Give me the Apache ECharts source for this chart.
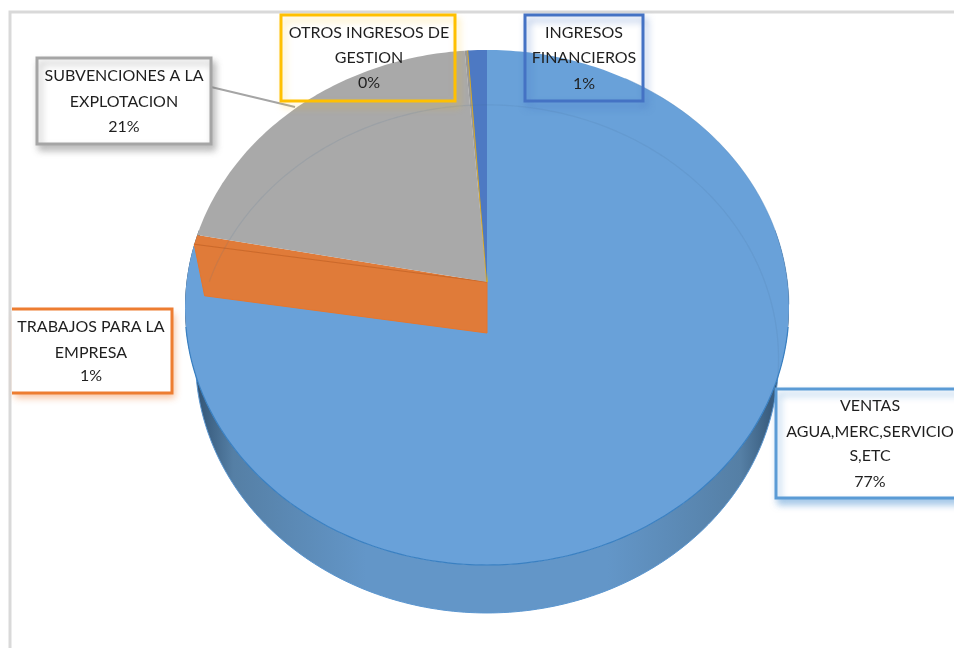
<!DOCTYPE html>
<html><head><meta charset="utf-8">
<style>html,body{margin:0;padding:0;background:#fff;overflow:hidden}#c{width:954px;height:648px}</style>
<script src="https://cdn.jsdelivr.net/npm/echarts@6/dist/echarts.min.js"></script>
</head><body><div id="c"></div>
<script>
// Data
const categories = ['VENTAS AGUA,MERC,SERVICIOS,ETC','TRABAJOS PARA LA EMPRESA','SUBVENCIONES A LA EXPLOTACION','OTROS INGRESOS DE GESTION','INGRESOS FINANCIEROS'];
const values = [77.4, 0.6, 20.7, 0.2, 1.1];
const sliceColors = ['#69a1d9','#e07b39','#a9a9a9','#989898','#4d79c3'];
const wallColors = ['#6599cc','#e07b39','#a0a0a0','#9c9c9c','#4d79c3'];
const labelLines = [['VENTAS','AGUA,MERC,SERVICIO','S,ETC'],['TRABAJOS PARA LA','EMPRESA'],['SUBVENCIONES A LA','EXPLOTACION'],['OTROS INGRESOS DE','GESTION'],['INGRESOS','FINANCIEROS']];
const borderColors = ['#5b9bd5','#ed7d31','#a5a5a5','#ffc000','#4472c4'];
const shadowColors = ['rgba(91,155,213,0.55)','rgba(237,125,49,0.45)','rgba(110,110,110,0.45)','rgba(255,192,0,0.35)','rgba(68,114,196,0.5)'];

// Layout
const boxes = [
  {x:776,y:389,w:200,h:109,cx:870,ys:[406,432,456,482],fill:'#fff'},
  {x:12,y:309,w:160,h:84,cx:91,ys:[327,353,376],fill:'#fff',open:true},
  {x:37,y:58,w:174,h:86,cx:124,ys:[76,102,127],fill:'#fff'},
  {x:281,y:15,w:174,h:86,cx:369,ys:[33,58,83],fill:null},
  {x:525,y:15,w:118,h:86,cx:584,ys:[33,58,84],fill:null}
];
const total = values.reduce((a,b)=>a+b,0);
const top3d = {cx:487,cy:282,a:255,b:300.5,k:-0.099};
const bot3d = {cx:487,cy:333,a:251.4,b:290,k:-0.102};
function rim(p,deg){ const t=deg*Math.PI/180,u=Math.sin(t),v=-Math.cos(t),d=1+p.k*v; return [p.cx+p.b*u/d,p.cy+p.a*v/d]; }
function arc(p,from,to){ const r=[],n=Math.max(2,Math.ceil(Math.abs(to-from))); for(let i=0;i<=n;i++) r.push(rim(p,from+(to-from)*i/n)); return r; }
let acc=0;
const sliceData = values.map((v,i)=>{ const s=acc/total*360; acc+=v; return {name:categories[i],value:[s,acc/total*360,i]}; });

const wallGrad = new echarts.graphic.LinearGradient(0,0,1,0,[
 {offset:0,color:'#10253a'},{offset:0.025,color:'#36597a'},{offset:0.08,color:'#557f a5'.replace(' ','')},{offset:0.3,color:'#6396c8'},
 {offset:0.7,color:'#6396c8'},{offset:0.92,color:'#557fa5'},{offset:0.975,color:'#36597a'},{offset:1,color:'#10253a'}]);

function renderSlice(params,api){
  const s=api.value(0),e=api.value(1),i=api.value(2);
  const kids=[];
  const poly=(pts,style)=>({type:'polygon',shape:{points:pts.map(q=>api.coord(q))},style});
  const line=(pts,style)=>({type:'polyline',shape:{points:pts.map(q=>api.coord(q))},style:Object.assign({fill:null},style)});
  if(i===0){
    kids.push(poly(arc(top3d,78,282).concat(arc(bot3d,282,78)),{fill:wallGrad}));
    kids.push(line(arc(bot3d,92,268),{stroke:'#5b96d0',lineWidth:1}));
  }
  kids.push(poly([[top3d.cx,top3d.cy]].concat(arc(top3d,s,e)),{fill:sliceColors[i]}));
  if(i===1){ // the cut face of the slice
    kids.push(poly([[top3d.cx,top3d.cy],rim(top3d,s),rim(bot3d,s),[bot3d.cx,bot3d.cy]],{fill:wallColors[i],stroke:'#e8762b',lineWidth:1}));
    kids.push(line([[top3d.cx,top3d.cy],rim(top3d,s)],{stroke:'#c9692c',lineWidth:1}));
  }
  if(i===3){
    kids.push(line([[top3d.cx,top3d.cy],rim(top3d,e)],{stroke:'#e5ad12',lineWidth:1.6}));
  }
  return {type:'group',children:kids};
}
function renderOverlay(params,api){
  const line=(pts,style)=>({type:'polyline',shape:{points:pts.map(q=>api.coord(q))},style:Object.assign({fill:null},style)});
  return {type:'group',children:[
    line(arc(bot3d,282,360+100),{stroke:'rgba(70,110,150,0.13)',lineWidth:1.2}),
    line(arc(top3d,100,260),{stroke:'#3a80c2',lineWidth:1.2}),
    line(arc(top3d,30,95),{stroke:'rgba(80,135,190,0.45)',lineWidth:1})
  ]};
}

const gfx=[];
// frame
gfx.push({type:'polyline',z:5,shape:{points:[[10,648],[10,12],[954,12]]},style:{fill:null,stroke:'#d9d9d9',lineWidth:3}});
// leader
gfx.push({type:'line',z:6,shape:{x1:211,y1:87,x2:295,y2:107},style:{stroke:'#a5a5a5',lineWidth:2}});
boxes.forEach((b,i)=>{
  const sh={shadowBlur:7,shadowOffsetX:3,shadowOffsetY:5,shadowColor:shadowColors[i]};
  if(b.open){
    gfx.push({type:'rect',z:7,shape:{x:b.x,y:b.y,width:b.w,height:b.h},style:Object.assign({fill:'#fff'},sh)});
    gfx.push({type:'polyline',z:8,shape:{points:[[b.x,b.y],[b.x+b.w,b.y],[b.x+b.w,b.y+b.h],[b.x,b.y+b.h]]},style:{fill:null,stroke:borderColors[i],lineWidth:3}});
  } else {
    gfx.push({type:'rect',z:7,shape:{x:b.x,y:b.y,width:b.w,height:b.h},style:Object.assign({fill:b.fill||'none',stroke:borderColors[i],lineWidth:3},sh)});
  }
  const pct=Math.round(values[i]/total*100)+'%';
  labelLines[i].concat([pct]).forEach((t,j)=>{
    gfx.push({type:'text',z:9,style:{text:t,x:b.cx,y:b.ys[j],textAlign:'center',textVerticalAlign:'middle',fill:'#1f1f1f',font:'16px Lato, "Open Sans", sans-serif'}});
  });
});

const chart=echarts.init(document.getElementById('c'),null,{renderer:'canvas'});
chart.setOption({
  animation:false,backgroundColor:'#fff',
  grid:{left:0,right:0,top:0,bottom:0},
  xAxis:{type:'value',min:0,max:954,show:false},
  yAxis:{type:'value',min:0,max:648,inverse:true,show:false},
  series:[
    {type:'custom',coordinateSystem:'cartesian2d',clip:false,renderItem:renderSlice,data:sliceData,encode:{x:0,y:1}},
    {type:'custom',coordinateSystem:'cartesian2d',clip:false,renderItem:renderOverlay,data:[[0,0]],encode:{x:0,y:1},silent:true}
  ],
  graphic:{elements:gfx}
});
</script></body></html>
